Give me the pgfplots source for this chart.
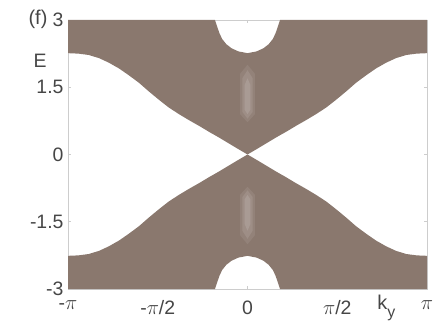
\documentclass[border=0pt]{standalone}
\usepackage{pgfplots}
\pgfplotsset{compat=1.18}
\usepackage{fontspec}
\setmainfont{Liberation Sans}
\definecolor{bandbrown}{RGB}{138,120,110}
\definecolor{labelgray}{RGB}{70,70,70}
\definecolor{frame}{RGB}{205,205,205}

\begin{document}
\begin{tikzpicture}
\begin{axis}[
  name=ax,
  scale only axis,
  width=359bp, height=269bp,
  xmin=-3.14159, xmax=3.14159,
  ymin=-3, ymax=3,
  axis line style={frame, line width=0.6pt},
  tick style={frame, line width=0.6pt},
  major tick length=3bp,
  tick align=inside,
  xtick={-3.14159,-1.5708,0,1.5708,3.14159},
  xticklabels={-$\pi$,-$\pi$/2,0,$\pi$/2,$\pi$},
  ytick={-3,-1.5,0,1.5,3},
  yticklabels={-3,-1.5,0,1.5,3},
  ticklabel style={font=\fontsize{19.5}{19.5}\selectfont, text=labelgray},
  xticklabel style={yshift=-8bp},
  yticklabel style={xshift=-1bp},
  clip=false,
]
% conduction-band continuum (with the gap pocket around k_y = 0)
\addplot[draw=none, fill=bandbrown] coordinates {
  (-3.14159,2.26) (-2.96,2.25) (-2.78,2.22) (-2.6,2.15) (-2.43,2.05)
  (-2.25,1.92) (-2.08,1.77) (-1.9,1.60) (-1.73,1.41) (-1.55,1.22)
  (-1.38,1.05) (-1.2,0.90) (-1.03,0.77) (-0.85,0.64) (-0.68,0.51)
  (-0.5,0.38) (-0.33,0.25) (-0.16,0.12) (0,0)
  (0.16,0.12) (0.33,0.25) (0.5,0.38) (0.68,0.51) (0.85,0.64)
  (1.03,0.77) (1.2,0.90) (1.38,1.05) (1.55,1.22) (1.73,1.41)
  (1.9,1.60) (2.08,1.77) (2.25,1.92) (2.43,2.05) (2.6,2.15)
  (2.78,2.22) (2.96,2.25) (3.14159,2.26)
  (3.14159,3) (0.57,3) (0.53,2.85) (0.49,2.7) (0.44,2.57) (0.37,2.46)
  (0.28,2.37) (0.16,2.30) (0,2.26) (-0.16,2.30) (-0.28,2.37)
  (-0.37,2.46) (-0.44,2.57) (-0.49,2.7) (-0.53,2.85) (-0.57,3) (-3.14159,3)
} -- cycle;
% valence-band continuum
\addplot[draw=none, fill=bandbrown] coordinates {
  (-3.14159,-2.26) (-2.96,-2.25) (-2.78,-2.22) (-2.6,-2.15) (-2.43,-2.05)
  (-2.25,-1.92) (-2.08,-1.77) (-1.9,-1.60) (-1.73,-1.41) (-1.55,-1.22)
  (-1.38,-1.05) (-1.2,-0.90) (-1.03,-0.77) (-0.85,-0.64) (-0.68,-0.51)
  (-0.5,-0.38) (-0.33,-0.25) (-0.16,-0.12) (0,0)
  (0.16,-0.12) (0.33,-0.25) (0.5,-0.38) (0.68,-0.51) (0.85,-0.64)
  (1.03,-0.77) (1.2,-0.90) (1.38,-1.05) (1.55,-1.22) (1.73,-1.41)
  (1.9,-1.60) (2.08,-1.77) (2.25,-1.92) (2.43,-2.05) (2.6,-2.15)
  (2.78,-2.22) (2.96,-2.25) (3.14159,-2.26)
  (3.14159,-3) (0.57,-3) (0.53,-2.85) (0.49,-2.7) (0.44,-2.57) (0.37,-2.46)
  (0.28,-2.37) (0.16,-2.30) (0,-2.26) (-0.16,-2.30) (-0.28,-2.37)
  (-0.37,-2.46) (-0.44,-2.57) (-0.49,-2.7) (-0.53,-2.85) (-0.57,-3) (-3.14159,-3)
} -- cycle;
% soft bright streaks of states near k_y = 0 (layered for a gradual glow)
\addplot[draw=none, fill=white, fill opacity=0.08] coordinates {
  (0,0.72) (0.13,0.9) (0.13,1.8) (0,2.0) (-0.13,1.8) (-0.13,0.9)} -- cycle;
\addplot[draw=none, fill=white, fill opacity=0.10] coordinates {
  (0,0.8) (0.09,0.95) (0.09,1.7) (0,1.88) (-0.09,1.7) (-0.09,0.95)} -- cycle;
\addplot[draw=none, fill=white, fill opacity=0.12] coordinates {
  (0,0.9) (0.05,1.0) (0.05,1.55) (0,1.7) (-0.05,1.55) (-0.05,1.0)} -- cycle;
\addplot[draw=none, fill=white, fill opacity=0.08] coordinates {
  (0,-0.72) (0.13,-0.9) (0.13,-1.8) (0,-2.0) (-0.13,-1.8) (-0.13,-0.9)} -- cycle;
\addplot[draw=none, fill=white, fill opacity=0.10] coordinates {
  (0,-0.8) (0.09,-0.95) (0.09,-1.7) (0,-1.88) (-0.09,-1.7) (-0.09,-0.95)} -- cycle;
\addplot[draw=none, fill=white, fill opacity=0.12] coordinates {
  (0,-0.9) (0.05,-1.0) (0.05,-1.55) (0,-1.7) (-0.05,-1.55) (-0.05,-1.0)} -- cycle;

\node[text=labelgray, font=\fontsize{19.5}{19.5}\selectfont] at (axis cs:-3.14159,2.1) [xshift=-28bp] {E};
\node[text=labelgray, font=\fontsize{20}{20}\selectfont] at (axis cs:-3.14159,3) [xshift=-30bp, yshift=1bp] {(f)};
\node[text=labelgray, font=\fontsize{20}{20}\selectfont, anchor=north] at (axis cs:2.43,-3) [yshift=-3bp]
  {k\raisebox{-0.38em}{\fontsize{16}{16}\selectfont y}};
\end{axis}
\path (ax.south west) ++(-68bp,-35bp) rectangle ++(437bp,324bp);
\end{tikzpicture}
\end{document}
